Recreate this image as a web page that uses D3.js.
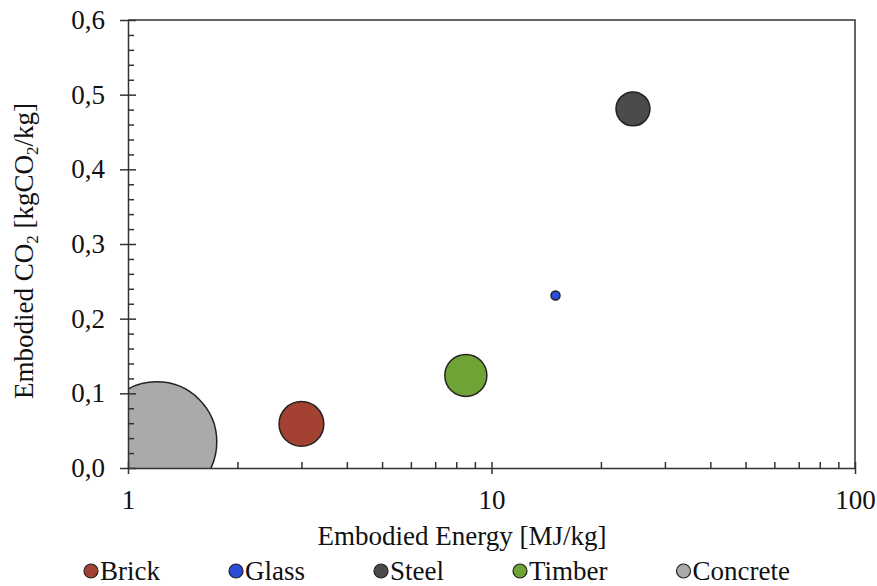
<!DOCTYPE html>
<html>
<head>
<meta charset="utf-8">
<script src="https://cdn.jsdelivr.net/npm/d3@7"></script>
<style>
  body { margin: 0; background: #fff; }
  text { font-family: 'Liberation Serif', 'Times New Roman', serif; fill: #111; }
</style>
</head>
<body>
<div class="graph"></div>
<script>
// data
var materials = ['Brick', 'Glass', 'Steel', 'Timber', 'Concrete'];
var energy = [3.0, 15.0, 24.5, 8.5, 1.2];          // MJ/kg
var carbon = [0.059, 0.231, 0.481, 0.124, 0.035];  // kgCO2/kg
var bubbleSize = [13.9, 0.56, 8.0, 12.25, 100];
var colors = ['#a34232', '#2a4cd6', '#4b4b4b', '#6fa335', '#aaaaaa'];
var xTicks = [1, 10, 100];
var yTicks = [0, 0.1, 0.2, 0.3, 0.4, 0.5, 0.6];

var width = 877,
    height = 586;
var plotLeft = 128, plotRight = 855, plotTop = 20, plotBottom = 468;
var fontSize = '27px';

var svg = d3.select('.graph')
  .append('svg')
  .attr('width', width)
  .attr('height', height);

var xScale = d3.scaleLog().domain([1, 100]).range([plotLeft, plotRight]);
var yScale = d3.scaleLinear().domain([0, 0.6]).range([plotBottom, plotTop]);
var rScale = d3.scaleSqrt().domain([0, 100]).range([0, 60]);

svg.append('clipPath')
  .attr('id', 'plot-clip')
  .append('rect')
  .attr('x', plotLeft)
  .attr('y', plotTop)
  .attr('width', plotRight - plotLeft)
  .attr('height', plotBottom - plotTop);

// frame (top and right)
svg.append('path')
  .attr('d', 'M' + plotLeft + ',' + plotTop + 'H' + plotRight + 'V' + plotBottom)
  .attr('fill', 'none')
  .attr('stroke', '#333')
  .attr('stroke-width', 1.5);

// bubbles, largest first
var order = d3.range(materials.length).sort((a, b) => bubbleSize[b] - bubbleSize[a]);
svg.append('g')
  .attr('clip-path', 'url(#plot-clip)')
  .selectAll('circle')
  .data(order)
  .enter()
  .append('circle')
  .attr('cx', i => xScale(energy[i]))
  .attr('cy', i => yScale(carbon[i]))
  .attr('r', i => rScale(bubbleSize[i]))
  .attr('fill', i => colors[i])
  .attr('stroke', '#222')
  .attr('stroke-width', 1.5);

// x axis
var xMinor = [];
[1, 10].forEach(d => { for (var k = 2; k <= 9; k++) xMinor.push(d * k); });

var xAxisGroup = svg.append('g')
  .attr('id', 'x-axis')
  .attr('transform', 'translate(0,' + plotBottom + ')');
xAxisGroup.append('g')
  .call(d3.axisBottom(xScale).tickValues(xMinor).tickSize(-6).tickFormat(''))
  .call(g => g.select('.domain').remove());
xAxisGroup.append('g')
  .call(d3.axisBottom(xScale).tickValues(xTicks).tickSize(6).tickSizeOuter(0).tickPadding(16).tickFormat(d3.format('d')))
  .call(g => g.selectAll('.tick line').attr('y1', -6))
  .call(g => g.selectAll('text').style('font-size', fontSize).attr('font-family', null));
xAxisGroup.selectAll('path, line').attr('stroke', '#333').attr('stroke-width', 1.5);

// y axis
var yMinor = d3.range(0, 0.601, 0.02).filter(d => Math.abs(Math.round(d * 10) - d * 10) > 1e-6);
var commaFormat = d => d3.format('.1f')(d).replace('.', ',');

var yAxisGroup = svg.append('g')
  .attr('id', 'y-axis')
  .attr('transform', 'translate(' + plotLeft + ',0)');
yAxisGroup.append('g')
  .call(d3.axisLeft(yScale).tickValues(yMinor).tickSize(-6).tickFormat(''))
  .call(g => g.select('.domain').remove());
yAxisGroup.append('g')
  .call(d3.axisLeft(yScale).tickValues(yTicks).tickSize(8).tickSizeOuter(0).tickPadding(15).tickFormat(commaFormat))
  .call(g => g.selectAll('.tick line').attr('x1', 8))
  .call(g => g.selectAll('text').style('font-size', fontSize).attr('font-family', null));
yAxisGroup.selectAll('path, line').attr('stroke', '#333').attr('stroke-width', 1.5);

// axis titles
svg.append('text')
  .text('Embodied Energy [MJ/kg]')
  .attr('x', 462)
  .attr('y', 545)
  .attr('text-anchor', 'middle')
  .style('font-size', fontSize);

var yTitle = svg.append('text')
  .attr('transform', 'translate(33,251) rotate(-90)')
  .attr('text-anchor', 'middle')
  .style('font-size', fontSize);
yTitle.append('tspan').text('Embodied CO');
yTitle.append('tspan').text('2').attr('dy', 5).style('font-size', '17px');
yTitle.append('tspan').text(' [kgCO').attr('dy', -5);
yTitle.append('tspan').text('2').attr('dy', 5).style('font-size', '17px');
yTitle.append('tspan').text('/kg]').attr('dy', -5);

// legend
var legend = svg.append('g').attr('class', 'legend');
var cx = 91;
materials.forEach((name, i) => {
  var item = legend.append('g').attr('transform', 'translate(' + cx + ',571)');
  item.append('circle')
    .attr('r', 7)
    .attr('fill', colors[i])
    .attr('stroke', '#222')
    .attr('stroke-width', 1.2);
  var label = item.append('text')
    .text(name)
    .attr('x', 9)
    .attr('y', 9)
    .style('font-size', fontSize);
  cx += 9 + label.node().getComputedTextLength() + 76;
});
</script>
</body>
</html>
